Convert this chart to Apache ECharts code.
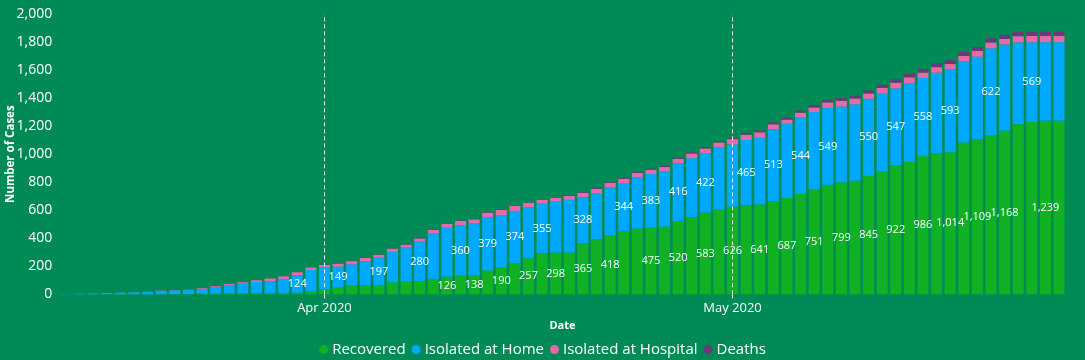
<!DOCTYPE html>
<html>
<head>
<meta charset="utf-8">
<script src="https://cdn.jsdelivr.net/npm/echarts@6/dist/echarts.min.js"></script>
<style>
html,body{margin:0;padding:0;background:#008a56;}
#chart{width:1085px;height:360px;}
</style>
</head>
<body>
<div id="chart"></div>
<script>
const dates = [
"2020-03-13","2020-03-14","2020-03-15","2020-03-16","2020-03-17","2020-03-18","2020-03-19","2020-03-20","2020-03-21","2020-03-22",
"2020-03-23","2020-03-24","2020-03-25","2020-03-26","2020-03-27","2020-03-28","2020-03-29","2020-03-30","2020-03-31","2020-04-01",
"2020-04-02","2020-04-03","2020-04-04","2020-04-05","2020-04-06","2020-04-07","2020-04-08","2020-04-09","2020-04-10","2020-04-11",
"2020-04-12","2020-04-13","2020-04-14","2020-04-15","2020-04-16","2020-04-17","2020-04-18","2020-04-19","2020-04-20","2020-04-21",
"2020-04-22","2020-04-23","2020-04-24","2020-04-25","2020-04-26","2020-04-27","2020-04-28","2020-04-29","2020-04-30","2020-05-01",
"2020-05-02","2020-05-03","2020-05-04","2020-05-05","2020-05-06","2020-05-07","2020-05-08","2020-05-09","2020-05-10","2020-05-11",
"2020-05-12","2020-05-13","2020-05-14","2020-05-15","2020-05-16","2020-05-17","2020-05-18","2020-05-19","2020-05-20","2020-05-21",
"2020-05-22","2020-05-23","2020-05-24","2020-05-25"];

const recovered = [0,0,0,0,0,0,0,0,1,1,
4,5,7,7,7,7,10,12,21,36,
48,64,64,64,86,90,95,110,126,133,
138,171,190,221,257,293,298,298,365,393,
418,450,469,475,483,520,550,583,605,626,
636,641,664,687,717,751,781,799,810,845,
879,922,945,986,1005,1014,1083,1109,1133,1168,
1214,1229,1239,1239];

const isolatedHome = [2,4,6,9,12,14,17,24,27,29,
34,45,60,69,81,88,100,124,152,155,
149,150,171,197,217,243,280,326,350,360,
369,379,376,374,364,355,364,376,328,329,
345,344,367,383,395,416,421,422,443,443,
465,476,513,530,544,549,549,541,545,550,
552,547,562,558,576,593,579,586,622,615,
583,569,560,560];

const isolatedHospital = [0,0,0,0,0,1,1,2,2,3,
6,8,8,11,13,18,19,22,19,18,
21,23,24,21,23,21,24,23,26,30,
28,32,36,37,32,27,27,28,31,30,
33,30,30,30,30,30,34,36,36,38,
38,39,36,29,35,33,39,41,42,38,
41,41,41,38,40,36,39,41,42,39,
45,45,45,45];

const deaths = [0,0,0,0,0,0,0,0,0,0,
1,1,1,1,1,1,2,2,2,2,
2,3,3,3,3,3,3,3,3,3,
3,4,4,4,4,4,4,5,7,7,
8,8,8,8,8,8,9,9,9,10,
12,13,14,14,15,17,18,19,20,21,
23,25,26,26,27,28,28,28,29,30,
31,31,31,31];

const recoveredLabelIdx = [28,30,32,34,36,38,40,43,45,47,49,51,53,55,57,59,61,63,65,67,69,72];
const homeLabelIdx = [17,20,23,26,29,31,33,35,38,41,43,45,47,50,52,54,56,59,61,63,65,68,71];

const tickDates = ["2020-04-01","2020-05-01"];
const tickLabels = ["Apr 2020","May 2020"];
const yTicks = [0,200,400,600,800,1000,1200,1400,1600,1800,2000];

const FONT = "'Segoe UI','Open Sans',sans-serif";

function withLabels(values, idxs) {
  return values.map((v, i) => ({ value: v, label: { show: idxs.indexOf(i) >= 0 } }));
}

const chart = echarts.init(document.getElementById('chart'), null, { renderer: 'canvas' });

const labelStyle = {
  show: false,
  position: 'inside',
  color: '#ffffff',
  fontSize: 11,
  fontFamily: FONT,
  formatter: p => p.value.toLocaleString('en-US')
};

chart.setOption({
  backgroundColor: '#008a56',
  animation: false,
  textStyle: { fontFamily: FONT },
  grid: { left: 59.2, right: 19.2, top: 14, bottom: 65.7, containLabel: false, outerBoundsMode: 'none' },
  legend: {
    data: ['Recovered','Isolated at Home','Isolated at Hospital','Deaths'],
    icon: 'circle',
    itemWidth: 9,
    itemHeight: 9,
    itemGap: 6,
    left: 'center',
    top: 337,
    textStyle: { color: '#ffffff', fontSize: 15, fontFamily: FONT, padding: [0,0,0,-1] }
  },
  xAxis: {
    type: 'category',
    data: dates,
    name: 'Date',
    nameLocation: 'middle',
    nameGap: 26,
    nameMoveOverlap: false,
    nameTextStyle: { color: '#ffffff', fontSize: 11, fontWeight: 'bold', fontFamily: FONT },
    axisLine: { show: false },
    axisTick: {
      show: true,
      alignWithLabel: true,
      length: 4,
      interval: (idx, val) => tickDates.indexOf(val) >= 0,
      lineStyle: { color: '#ffffff', width: 1 }
    },
    axisLabel: {
      color: '#ffffff',
      fontSize: 13,
      fontFamily: FONT,
      margin: 7,
      interval: (idx, val) => tickDates.indexOf(val) >= 0,
      formatter: val => { const k = tickDates.indexOf(val); return k >= 0 ? tickLabels[k] : ''; }
    },
    splitLine: { show: false }
  },
  yAxis: {
    type: 'value',
    min: yTicks[0],
    max: yTicks[yTicks.length - 1],
    interval: 200,
    name: 'Number of Cases',
    nameLocation: 'middle',
    nameGap: 42,
    nameMoveOverlap: false,
    nameTextStyle: { color: '#ffffff', fontSize: 11.5, fontWeight: 'bold', fontFamily: FONT },
    axisLine: { show: false },
    axisTick: { show: false },
    splitLine: { show: false },
    axisLabel: {
      color: '#ffffff',
      fontSize: 14,
      fontFamily: FONT,
      margin: 7,
      formatter: v => v.toLocaleString('en-US')
    }
  },
  series: [
    {
      name: 'Recovered', type: 'bar', stack: 'total', barWidth: 11,
      itemStyle: { color: '#10b224' },
      label: labelStyle,
      data: withLabels(recovered, recoveredLabelIdx)
    },
    {
      name: 'Isolated at Home', type: 'bar', stack: 'total', barWidth: 11,
      itemStyle: { color: '#00a9fe' },
      label: labelStyle,
      data: withLabels(isolatedHome, homeLabelIdx)
    },
    {
      name: 'Isolated at Hospital', type: 'bar', stack: 'total', barWidth: 11,
      itemStyle: { color: '#e66aa8' },
      data: isolatedHospital
    },
    {
      name: 'Deaths', type: 'bar', stack: 'total', barWidth: 11,
      itemStyle: { color: '#6a3a78' },
      data: deaths,
      markLine: {
        silent: true,
        symbol: 'none',
        label: { show: false },
        lineStyle: { color: '#ffffff', type: [4, 3], width: 1, opacity: 0.9 },
        data: tickDates.map(d => ({ xAxis: d }))
      }
    }
  ]
});
</script>
</body>
</html>
